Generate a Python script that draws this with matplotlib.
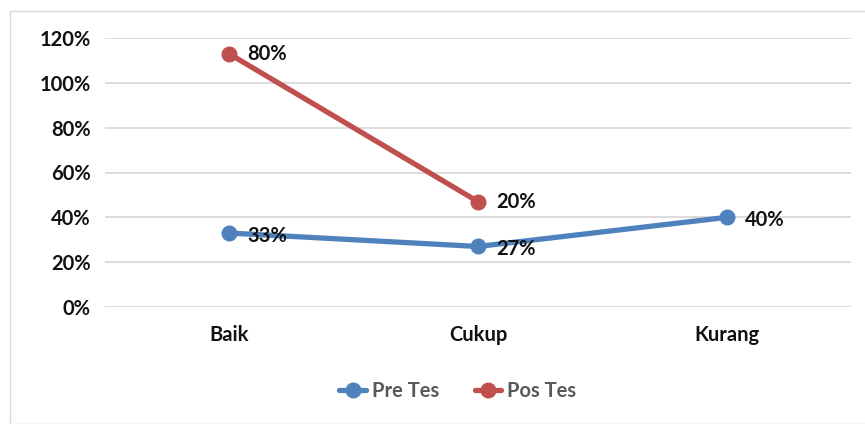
import matplotlib.pyplot as plt
from matplotlib.patches import Rectangle

# data
categories = ["Baik", "Cukup", "Kurang"]
pre_tes = [33, 27, 40]
pos_tes = [80, 20]          # stacked on top of pre tes (Excel stacked line)
yticks = [0, 20, 40, 60, 80, 100, 120]

plt.rcParams['font.family'] = ['Lato', 'DejaVu Sans']

fig = plt.figure(figsize=(8.65, 4.24), dpi=100)
ax = fig.add_axes([104.5 / 865, 1 - 307 / 424, (851.5 - 104.5) / 865, (307 - 38) / 424])

blue = "#4F81BD"
red = "#C0504D"
txt = "#111111"

x = list(range(len(categories)))
pos_stack = [pre_tes[i] + pos_tes[i] for i in range(len(pos_tes))]

ax.plot(x, pre_tes, color=blue, lw=3.8, marker="o", ms=10.5, label="Pre Tes", zorder=3,
        solid_capstyle="round")
ax.plot(x[:len(pos_tes)], pos_stack, color=red, lw=3.8, marker="o", ms=10.5, label="Pos Tes",
        zorder=3, solid_capstyle="round")

for i, v in enumerate(pre_tes):
    ax.annotate(f"{v}%", (x[i], v), xytext=(13, -2), textcoords="offset points",
                ha="left", va="center", fontsize=14.5, fontweight="bold", color=txt, zorder=4)
for i, v in enumerate(pos_tes):
    ax.annotate(f"{v}%", (x[i], pos_stack[i]), xytext=(13, 0), textcoords="offset points",
                ha="left", va="center", fontsize=14.5, fontweight="bold", color=txt, zorder=4)

ax.set_xlim(-0.5, len(categories) - 0.5)
ax.set_ylim(0, 120)
ax.set_yticks(yticks)
ax.set_yticklabels([f"{t}%" for t in yticks], fontsize=14.5, fontweight="bold", color=txt)
ax.set_xticks(x)
ax.set_xticklabels(categories, fontsize=14.5, fontweight="bold", color=txt)
ax.tick_params(length=0, axis="y", pad=10)
ax.tick_params(length=0, axis="x", pad=13)
ax.grid(axis="y", color="#D9D9D9", lw=1.3)
ax.set_axisbelow(True)
for s in ax.spines.values():
    s.set_visible(False)

fig.legend(loc="center", bbox_to_anchor=(458 / 865, 1 - 391 / 424), ncol=2, frameon=False,
           labelcolor="#595959", handlelength=1.3, columnspacing=1.8,
           handletextpad=0.3, prop={"weight": "bold", "size": 14.5})

# outer frame like the Excel chart area
fig.patches.append(Rectangle((10 / 865, 0), 1.0, 1 - 11 / 424, transform=fig.transFigure,
                             fill=False, edgecolor="#D9D9D9", lw=1))

fig.savefig("out.png", dpi=100)
